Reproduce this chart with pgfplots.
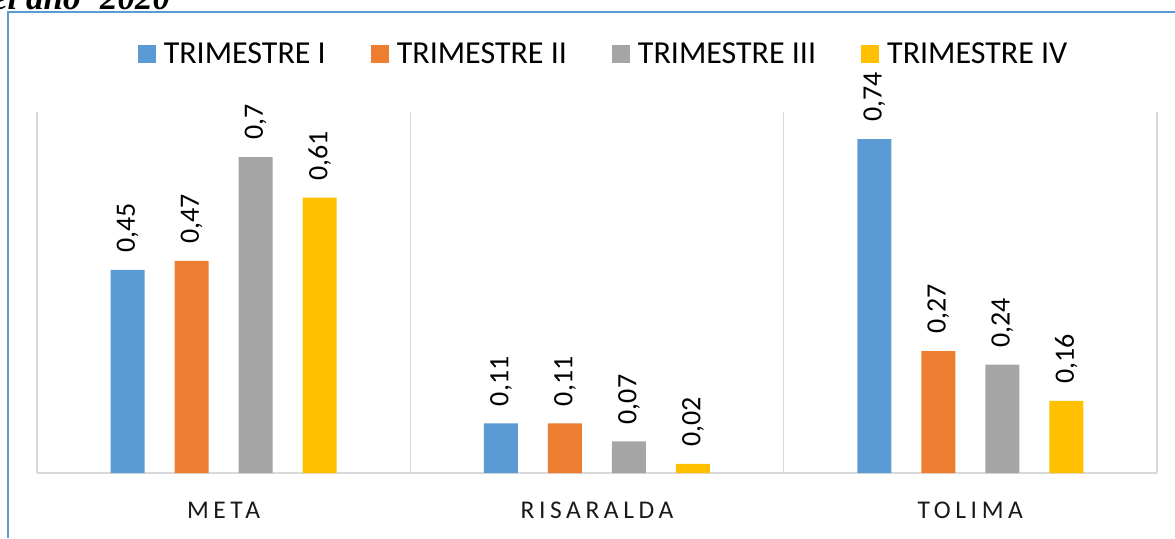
\documentclass[border=0pt]{standalone}
\usepackage{fontspec}
\setmainfont{Carlito}
\newfontfamily\titlefont{Liberation Serif}
\usepackage{pgfplots}
\pgfplotsset{compat=1.18}
\definecolor{cI}{HTML}{5B9BD5}
\definecolor{cII}{HTML}{ED7D31}
\definecolor{cIII}{HTML}{A5A5A5}
\definecolor{cIV}{HTML}{FFC000}
\definecolor{gridc}{HTML}{D9D9D9}
\definecolor{framec}{HTML}{5B9BD5}
\begin{document}
\begin{tikzpicture}[x=1pt,y=1pt]
\useasboundingbox (0,0) rectangle (1175,538);
\clip (0,0) rectangle (1175,538);
\node[anchor=base west, inner sep=0pt, font=\titlefont\bfseries\itshape\fontsize{35}{40}\selectfont] at (-8,528) {el año};
\node[anchor=base west, inner sep=0pt, font=\titlefont\bfseries\itshape\fontsize{35}{40}\selectfont] at (100,528) {2020};
\draw[framec, line width=2pt] (8,0) -- (8,526) -- (1176,526);
\begin{axis}[
  at={(37pt,65pt)}, anchor=south west,
  scale only axis, width=1120pt, height=361pt,
  xmin=0, xmax=3, ymin=0, ymax=0.8,
  axis y line=none, axis x line*=bottom,
  axis line style={draw=gridc, line width=1.5pt},
  xtick={0.5,1.5,2.5},
  xticklabels={META,RISARALDA,TOLIMA},
  major tick length=0pt, minor tick length=0pt,
  minor xtick={0,1,2,3},
  xminorgrids=true,
  minor grid style={draw=gridc, line width=1.5pt},
  xticklabel style={font=\addfontfeatures{LetterSpace=18}\fontsize{25.5}{30}\selectfont, text=black!90, inner sep=0pt, anchor=north, yshift=-29pt},
  ybar=30pt, bar width=34pt,
  point meta=explicit symbolic,
  nodes near coords,
  nodes near coords style={rotate=90, anchor=west, inner xsep=17pt, inner ysep=0pt, font=\fontsize{28}{32}\selectfont, text=black},
  legend style={draw=none, fill=none, at={(0.505,1.16)}, anchor=center,
    font=\fontsize{32}{36}\selectfont, legend columns=4,
    nodes={inner sep=0pt},
    /tikz/every odd column/.append style={column sep=8pt},
    /tikz/every even column/.append style={column sep=45pt}},
  legend image code/.code={\fill[#1] (0pt,-9pt) rectangle (18pt,9pt);},
]
\addplot[fill=cI, draw=none] coordinates {(0.5,0.45) [{0,45}] (1.5,0.11) [{0,11}] (2.5,0.74) [{0,74}]};
\addplot[fill=cII, draw=none] coordinates {(0.5,0.47) [{0,47}] (1.5,0.11) [{0,11}] (2.5,0.27) [{0,27}]};
\addplot[fill=cIII, draw=none] coordinates {(0.5,0.7) [{0,7}] (1.5,0.07) [{0,07}] (2.5,0.24) [{0,24}]};
\addplot[fill=cIV, draw=none] coordinates {(0.5,0.61) [{0,61}] (1.5,0.02) [{0,02}] (2.5,0.16) [{0,16}]};
\legend{TRIMESTRE I, TRIMESTRE II, TRIMESTRE III, TRIMESTRE IV}
\end{axis}
\end{tikzpicture}
\end{document}
